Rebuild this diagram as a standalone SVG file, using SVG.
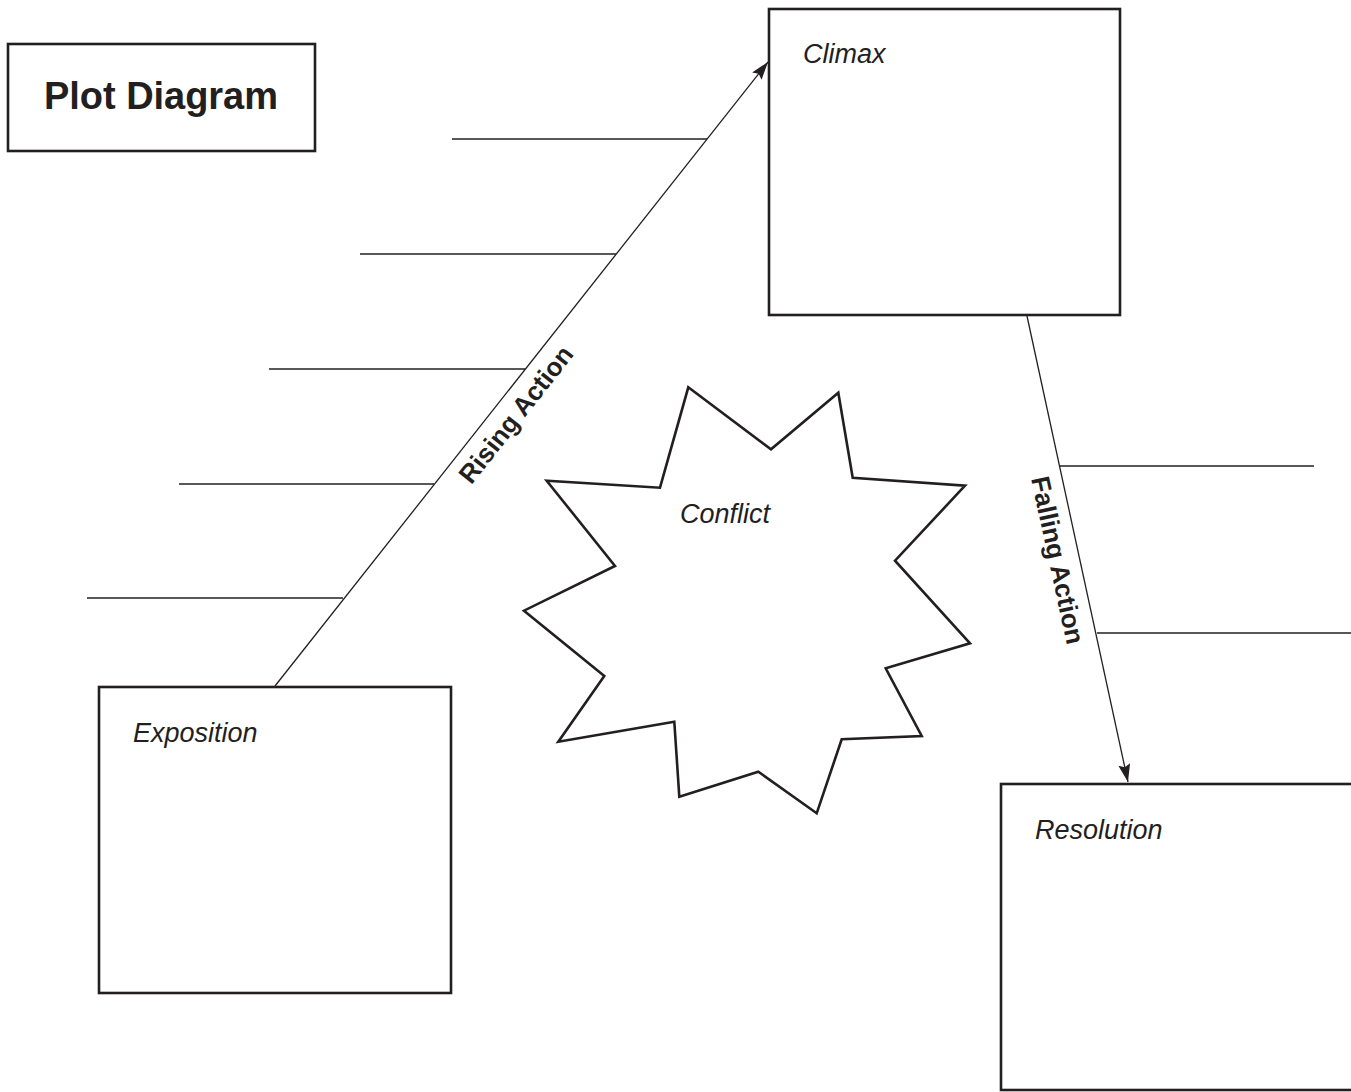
<svg xmlns="http://www.w3.org/2000/svg" width="1351" height="1092" viewBox="0 0 1351 1092">
<defs>
<style>
.box{fill:#fff;stroke:#231f20;stroke-width:2.6}
.ln{stroke:#231f20;stroke-width:1.3;fill:none}
.lbl{font-family:"Liberation Sans",Arial,sans-serif;font-style:italic;font-size:27px;fill:#231f20}
.bold{font-family:"Liberation Sans",Arial,sans-serif;font-weight:bold;fill:#231f20}
</style>
<marker id="arr" viewBox="0 0 18 12" refX="18" refY="6" markerWidth="18" markerHeight="12" markerUnits="userSpaceOnUse" orient="auto">
<path d="M0,0 L18,6 L0,12 L3,6 Z" fill="#231f20"/>
</marker>
</defs>
<rect width="1351" height="1092" fill="#fff"/>
<g id="title">
<rect class="box" x="8" y="44" width="307" height="107"/>
<text class="bold" x="44" y="109" font-size="38" textLength="234">Plot Diagram</text>
</g>
<g id="connectors">
<line class="ln" x1="275" y1="686" x2="768" y2="62" marker-end="url(#arr)"/>
<line class="ln" x1="1027" y1="316" x2="1128" y2="782" marker-end="url(#arr)"/>
<line class="ln" x1="452" y1="139" x2="707" y2="139"/>
<line class="ln" x1="360" y1="254" x2="616" y2="254"/>
<line class="ln" x1="269" y1="369" x2="525" y2="369"/>
<line class="ln" x1="179" y1="484" x2="434" y2="484"/>
<line class="ln" x1="87" y1="598" x2="343" y2="598"/>
<line class="ln" x1="1060" y1="466" x2="1314" y2="466"/>
<line class="ln" x1="1097" y1="633" x2="1351" y2="633"/>
<text class="bold" font-size="26" text-anchor="middle" transform="translate(523,420) rotate(-51.7)">Rising Action</text>
<text class="bold" font-size="26" text-anchor="middle" transform="translate(1049,562) rotate(77.8)">Falling Action</text>
</g>
<g id="climax">
<rect class="box" x="769" y="9" width="351" height="306"/>
<text class="lbl" x="803" y="63">Climax</text>
</g>
<g id="exposition">
<rect class="box" x="99" y="687" width="352" height="306"/>
<text class="lbl" x="133" y="742">Exposition</text>
</g>
<g id="resolution">
<rect class="box" x="1001" y="784" width="352" height="306"/>
<text class="lbl" x="1035" y="839">Resolution</text>
</g>
<g id="conflict">
<polygon class="box" points="688.3,387.3 771,449.3 838.3,392.7 852.7,477.7 965,485.7 895,560.7 970,643.3 885.7,668.3 921.7,736 841.7,739.3 816.7,813.3 758.3,771.7 679.3,796.7 674.3,721.7 558.3,741.7 604.3,676 524,610.7 615,566 546.7,480.7 660,487.7"/>
<text class="lbl" x="680" y="523">Conflict</text>
</g>
</svg>
